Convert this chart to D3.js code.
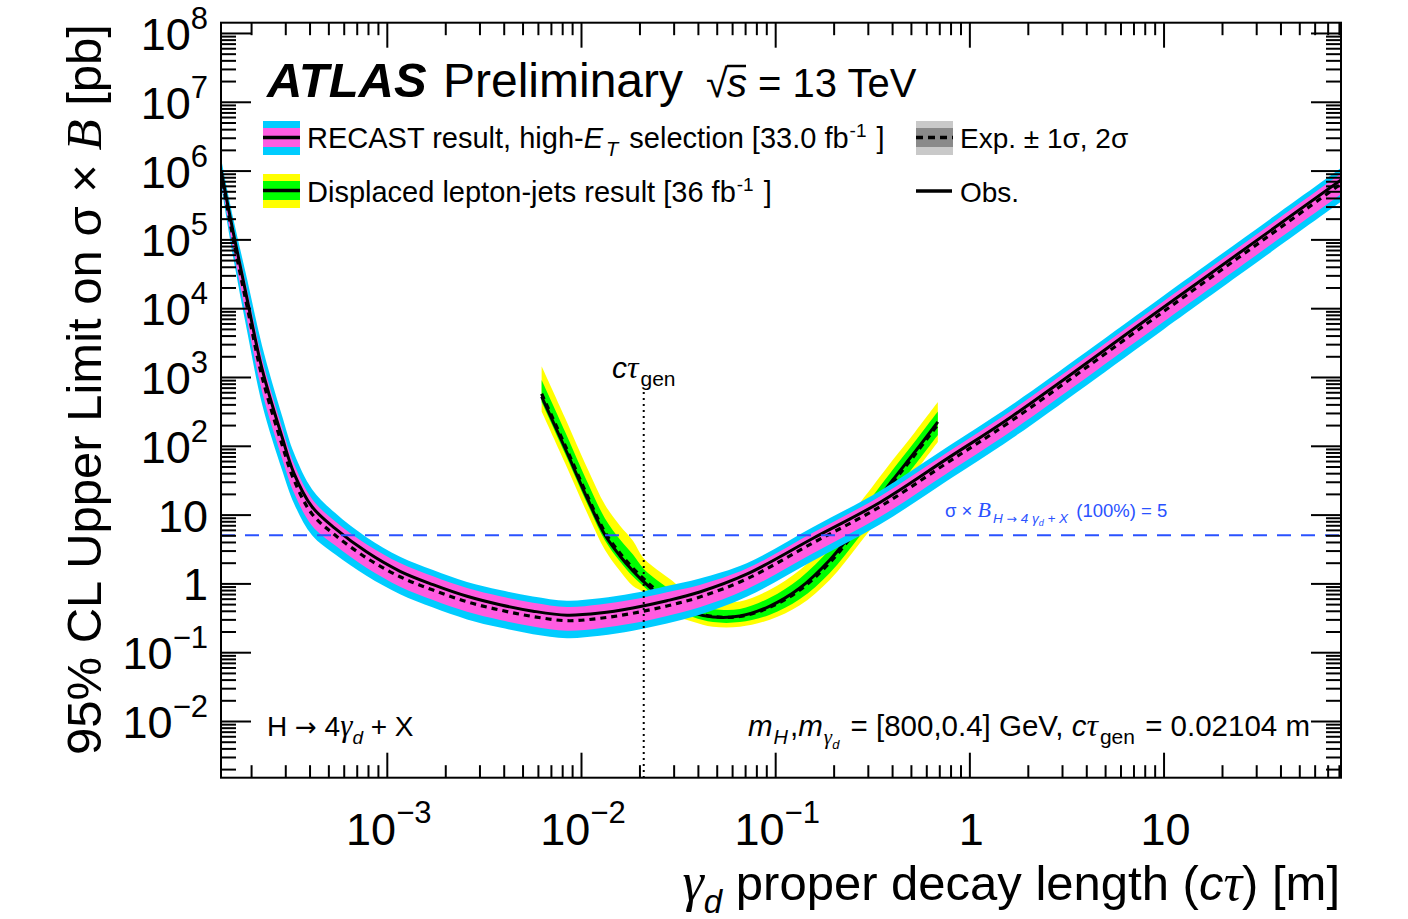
<!DOCTYPE html>
<html>
<head>
<meta charset="utf-8">
<script src="https://cdn.jsdelivr.net/npm/d3@7"></script>
<style>
  body { margin: 0; background: #fff; }
  svg text { font-family: "Liberation Sans", Arial, Helvetica, sans-serif; fill: #000; }
</style>
</head>
<body>
<svg id="chart" width="1408" height="919"></svg>
<script>
// ---- RECAST result, high-ET selection (cτ in m, σ×B limit in pb) ----
const recastCtau = [1.4e-4, 1.62e-4, 1.91e-4, 2.28e-4, 2.89e-4, 3.33e-4, 4.12e-4, 5.41e-4, 7.89e-4, 1.17e-3,
                    1.73e-3, 2.59e-3, 3.83e-3, 5.66e-3, 8.47e-3, 1.25e-2, 1.85e-2, 2.77e-2, 4.09e-2, 7.13e-2,
                    0.156, 0.346, 0.762, 1.67, 10, 82];
const recastExp  = [9.5e5, 1.0e5, 1.04e4, 1000, 103, 31.6, 10.2, 5.05, 2.33, 1.25,
                    0.80, 0.54, 0.41, 0.33, 0.287, 0.311, 0.368, 0.47, 0.634, 1.16,
                    3.86, 13.0, 55.7, 237, 8950, 6.4e5];
const recastObs  = [1.0e6, 1.25e5, 1.33e4, 1300, 133, 39.5, 13.0, 6.3, 2.85, 1.5,
                    0.96, 0.65, 0.49, 0.395, 0.345, 0.37, 0.44, 0.56, 0.75, 1.36,
                    4.5, 15.0, 64, 272, 1.03e4, 7.3e5];
const recastUp2  = [1.51e6, 2.0e5, 2.61e4, 2818, 271, 77.6, 23.4, 10.6, 4.65, 2.44,
                    1.56, 1.05, 0.80, 0.644, 0.56, 0.606, 0.718, 0.917, 1.18, 1.97,
                    6.55, 22.1, 94.6, 402, 1.52e4, 1.09e6];
const recastUp1  = [1.25e6, 1.51e5, 1.81e4, 1820, 183, 54.3, 16.9, 8.0, 3.69, 1.98,
                    1.27, 0.856, 0.65, 0.523, 0.455, 0.493, 0.583, 0.745, 0.95, 1.64,
                    5.45, 18.4, 78.7, 335, 1.26e4, 9.04e5];
const recastDn1  = [7.54e5, 7.08e4, 6560, 603, 65.0, 20.6, 6.9, 3.58, 1.67, 0.895,
                    0.573, 0.387, 0.294, 0.236, 0.205, 0.223, 0.263, 0.337, 0.45, 0.821,
                    2.73, 9.2, 39.4, 168, 6340, 4.53e5];
const recastDn2  = [6.28e5, 5.37e4, 4540, 398, 44.0, 14.4, 5.0, 2.65, 1.28, 0.695,
                    0.445, 0.300, 0.228, 0.183, 0.16, 0.173, 0.205, 0.261, 0.35, 0.638,
                    2.12, 7.15, 30.6, 130, 4920, 3.52e5];

// ---- Displaced lepton-jets result ----
const ljCtau = [6.27e-3, 8.27e-3, 1.087e-2, 1.329e-2, 1.588e-2, 1.852e-2, 2.085e-2, 2.347e-2, 2.87e-2, 3.77e-2,
                4.78e-2, 6.58e-2, 9.39e-2, 0.134, 0.191, 0.273, 0.403, 0.524, 0.688];
const ljObs  = [518, 92.9, 16.3, 5.05, 2.50, 1.51, 1.08, 0.802, 0.537, 0.372,
                0.325, 0.336, 0.469, 0.857, 2.19, 7.55, 31.8, 81.3, 222];
const ljExp  = [570, 102, 17.9, 5.55, 2.75, 1.66, 1.19, 0.88, 0.58, 0.39,
                0.33, 0.33, 0.45, 0.80, 2.0, 6.9, 29.0, 74, 203];
const ljUp2  = [1431, 256, 44.9, 13.9, 6.9, 4.17, 2.38, 1.76, 1.16, 0.647,
                0.548, 0.548, 0.81, 1.56, 4.28, 14.8, 62.1, 158, 434];
const ljUp1  = [903, 162, 28.4, 8.8, 4.36, 2.63, 1.68, 1.24, 0.818, 0.503,
                0.426, 0.426, 0.62, 1.18, 3.1, 10.7, 45, 115, 315];
const ljDn1  = [433, 77.4, 13.6, 4.21, 2.09, 1.26, 0.928, 0.686, 0.452, 0.324,
                0.274, 0.274, 0.351, 0.592, 1.42, 4.9, 20.6, 52.5, 144];
const ljDn2  = [314, 56.1, 9.85, 3.05, 1.51, 0.913, 0.75, 0.554, 0.365, 0.277,
                0.234, 0.234, 0.297, 0.48, 1.12, 3.86, 16.2, 41.4, 114];

// ---- reference values ----
const ctauGen = 0.02104;       // generated proper decay length [m]
const xsecBR100 = 5;           // σ × B for B(H→4γd+X) = 100% [pb]

// ---- axis ticks / labels ----
const xMajor = [1e-3, 1e-2, 1e-1, 1, 10];
const xTickBase = ["10", "10", "10", "1", "10"];
const xTickExp  = ["\u22123", "\u22122", "\u22121", "", ""];
const yMajor = [1e-2, 1e-1, 1, 10, 1e2, 1e3, 1e4, 1e5, 1e6, 1e7, 1e8];
const yTickBase = ["10", "10", "1", "10", "10", "10", "10", "10", "10", "10", "10"];
const yTickExp  = ["\u22122", "\u22121", "", "", "2", "3", "4", "5", "6", "7", "8"];

// ---- layout ----
const X0 = 221, X1 = 1341, Y0 = 22.7, Y1 = 777.7;
const C_CYAN = "#00ccff", C_MAG = "#ff5ce1", C_GREEN = "#00ff00", C_YEL = "#ffff00";
const C_BLUE = "#2a52ff";
const ARROW_FONT = "'DejaVu Sans', sans-serif";

const svg = d3.select("#chart");
const x = d3.scaleLog().domain([1.4e-4, 82]).range([X0, X1]);
const y = d3.scaleLog().domain([1.5e-3, 1.41e8]).range([Y1, Y0]);

svg.append("defs").append("clipPath").attr("id", "plotclip")
  .append("rect").attr("x", X0).attr("y", Y0).attr("width", X1 - X0).attr("height", Y1 - Y0);

const plot = svg.append("g").attr("clip-path", "url(#plotclip)");

function rows(ct, arrs) {
  return ct.map((c, i) => { const r = { c }; for (const k in arrs) r[k] = arrs[k][i]; return r; });
}
const recast = rows(recastCtau, { exp: recastExp, obs: recastObs, u2: recastUp2, u1: recastUp1, d1: recastDn1, d2: recastDn2 });
const lj = rows(ljCtau, { exp: ljExp, obs: ljObs, u2: ljUp2, u1: ljUp1, d1: ljDn1, d2: ljDn2 });

const curve = d3.curveCatmullRom.alpha(0.5);
const band = (lo, hi) => d3.area().x(d => x(d.c)).y0(d => y(d[lo])).y1(d => y(d[hi])).curve(curve);
const line = key => d3.line().x(d => x(d.c)).y(d => y(d[key])).curve(curve);

function drawLimit(data, outer, inner) {
  plot.append("path").datum(data).attr("d", band("d2", "u2")).attr("fill", outer);
  plot.append("path").datum(data).attr("d", band("d1", "u1")).attr("fill", inner);
  plot.append("path").datum(data).attr("d", line("exp")).attr("fill", "none")
    .attr("stroke", "#000").attr("stroke-width", 3.2).attr("stroke-dasharray", "6,5");
  plot.append("path").datum(data).attr("d", line("obs")).attr("fill", "none")
    .attr("stroke", "#000").attr("stroke-width", 3);
}
drawLimit(lj, C_YEL, C_GREEN);
drawLimit(recast, C_CYAN, C_MAG);

// σ×B reference line
plot.append("line").attr("x1", X0).attr("x2", X1).attr("y1", y(xsecBR100)).attr("y2", y(xsecBR100))
  .attr("stroke", C_BLUE).attr("stroke-width", 2).attr("stroke-dasharray", "14,10");

// generated cτ marker
plot.append("line").attr("x1", x(ctauGen)).attr("x2", x(ctauGen)).attr("y1", 392).attr("y2", Y1)
  .attr("stroke", "#000").attr("stroke-width", 2).attr("stroke-dasharray", "2,4");

// ---- axes (ticks inward on all four sides) ----
function minorTicks(scale) {
  const [a, b] = scale.domain(), out = [];
  for (let e = Math.floor(Math.log10(a)); e <= Math.ceil(Math.log10(b)); e++)
    for (let k = 2; k <= 9; k++) { const v = k * Math.pow(10, e); if (v >= a && v <= b) out.push(v); }
  return out;
}
const xMinor = minorTicks(x), yMinor = minorTicks(y);
function addAxis(gen, tx, ty, values, len) {
  const g = svg.append("g").attr("transform", `translate(${tx},${ty})`)
    .call(gen.tickValues(values).tickSizeInner(-len).tickSizeOuter(0).tickFormat(""));
  g.select(".domain").remove();
  g.selectAll(".tick line").attr("stroke", "#000").attr("stroke-width", 2);
}
addAxis(d3.axisBottom(x), 0, Y1, xMajor, 25);
addAxis(d3.axisBottom(x), 0, Y1, xMinor, 12.5);
addAxis(d3.axisTop(x), 0, Y0, xMajor, 25);
addAxis(d3.axisTop(x), 0, Y0, xMinor, 12.5);
addAxis(d3.axisLeft(y), X0, 0, yMajor, 30);
addAxis(d3.axisLeft(y), X0, 0, yMinor, 15);
addAxis(d3.axisRight(y), X1, 0, yMajor, 30);
addAxis(d3.axisRight(y), X1, 0, yMinor, 15);

svg.append("rect").attr("x", X0).attr("y", Y0).attr("width", X1 - X0).attr("height", Y1 - Y0)
  .attr("fill", "none").attr("stroke", "#000").attr("stroke-width", 2);

// tick labels
xMajor.forEach((v, i) => {
  const t = svg.append("text").attr("x", x(v) + 2).attr("y", 845).attr("text-anchor", "middle").attr("font-size", 45);
  t.append("tspan").text(xTickBase[i]);
  if (xTickExp[i]) t.append("tspan").attr("font-size", 31).attr("dy", -22).text(xTickExp[i]);
});
yMajor.forEach((v, i) => {
  const t = svg.append("text").attr("x", 208).attr("y", y(v) + 17).attr("text-anchor", "end").attr("font-size", 45);
  t.append("tspan").text(yTickBase[i]);
  if (yTickExp[i]) t.append("tspan").attr("font-size", 31).attr("dy", -21).text(yTickExp[i]);
});

// rich-text helper: runs of {t, size, it, serif, fam, dy, dx}
function rich(sel, runs) {
  runs.forEach(r => {
    const ts = sel.append("tspan").text(r.t);
    if (r.size) ts.attr("font-size", r.size);
    if (r.it) ts.attr("font-style", "italic");
    if (r.serif) ts.attr("font-family", "'Liberation Serif', 'Times New Roman', serif");
    if (r.fam) ts.attr("font-family", r.fam);
    if (r.dy) ts.attr("dy", r.dy);
    if (r.dx) ts.attr("dx", r.dx);
  });
  return sel;
}

// axis titles
rich(svg.append("text").attr("transform", "translate(101,24) rotate(-90)").attr("text-anchor", "end").attr("font-size", 49), [
  { t: "95% CL Upper Limit on \u03C3 \u00D7 " },
  { t: "B", it: true, serif: true, size: 51 },
  { t: " [pb]", size: 49 }
]);
rich(svg.append("text").attr("x", 1340).attr("y", 900).attr("text-anchor", "end").attr("font-size", 49), [
  { t: "\u03B3", it: true, serif: true, size: 54 },
  { t: "d", it: true, size: 33, dy: 13 },
  { t: " proper decay length (", size: 49, dy: -13 },
  { t: "c", it: true },
  { t: "\u03C4", it: true, serif: true, size: 52 },
  { t: ") [m]", size: 49 }
]);

// ATLAS label
svg.append("text").attr("x", 267).attr("y", 97).attr("font-size", 49)
  .attr("font-weight", "bold").attr("font-style", "italic").text("ATLAS");
svg.append("text").attr("x", 443).attr("y", 97).attr("font-size", 48).text("Preliminary");
svg.append("text").attr("x", 706).attr("y", 97).attr("font-size", 40).text("\u221A");
svg.append("line").attr("x1", 727).attr("x2", 746).attr("y1", 66).attr("y2", 66).attr("stroke", "#000").attr("stroke-width", 2.5);
rich(svg.append("text").attr("x", 727).attr("y", 97).attr("font-size", 40), [
  { t: "s", it: true }, { t: " = 13 TeV" }
]);

// legend
const legFs = 29;
function legendBox(x0, y0, outer, inner, dashed) {
  svg.append("rect").attr("x", x0).attr("y", y0).attr("width", 37).attr("height", 34).attr("fill", outer);
  svg.append("rect").attr("x", x0).attr("y", y0 + 7).attr("width", 37).attr("height", 19).attr("fill", inner);
  svg.append("line").attr("x1", x0).attr("x2", x0 + 37).attr("y1", y0 + 16.5).attr("y2", y0 + 16.5)
    .attr("stroke", "#000").attr("stroke-width", 3.5).attr("stroke-dasharray", dashed ? "7,5" : null);
}
legendBox(263, 121, C_CYAN, C_MAG, false);
legendBox(263, 174, C_YEL, C_GREEN, false);
legendBox(916, 121, "#c9c9c9", "#8a8a8a", true);
svg.append("line").attr("x1", 916).attr("x2", 952).attr("y1", 191).attr("y2", 191).attr("stroke", "#000").attr("stroke-width", 3.5);

rich(svg.append("text").attr("x", 307).attr("y", 148).attr("font-size", legFs), [
  { t: "RECAST result, high-" },
  { t: "E", it: true },
  { t: "T", it: true, size: 20, dy: 8, dx: 3 },
  { t: " selection [33.0 fb", size: legFs, dy: -8, dx: 3 },
  { t: "-1", size: 19, dy: -11, dx: 1 },
  { t: " ]", size: legFs, dy: 11, dx: 2 }
]);
rich(svg.append("text").attr("x", 307).attr("y", 202).attr("font-size", legFs), [
  { t: "Displaced lepton-jets result [36 fb" },
  { t: "-1", size: 19, dy: -11, dx: 1 },
  { t: " ]", size: legFs, dy: 11, dx: 2 }
]);
svg.append("text").attr("x", 960).attr("y", 148).attr("font-size", 28).text("Exp. \u00B1 1\u03C3, 2\u03C3");
svg.append("text").attr("x", 960).attr("y", 202).attr("font-size", 28).text("Obs.");

// annotations
rich(svg.append("text").attr("x", 612).attr("y", 378).attr("font-size", 30), [
  { t: "c", it: true },
  { t: "\u03C4", it: true, serif: true, size: 32 },
  { t: "gen", size: 21, dy: 8, dx: 2 }
]);
rich(svg.append("text").attr("x", 267).attr("y", 736).attr("font-size", 28), [
  { t: "H " },
  { t: "\u2192", fam: ARROW_FONT, size: 26 },
  { t: " 4", size: 28 },
  { t: "\u03B3", it: true, serif: true, size: 31 },
  { t: "d", it: true, size: 19, dy: 8 },
  { t: " + X", size: 28, dy: -8 }
]);
rich(svg.append("text").attr("x", 1310).attr("y", 736).attr("text-anchor", "end").attr("font-size", 29.5), [
  { t: "m", it: true },
  { t: "H", it: true, size: 20, dy: 8, dx: 1 },
  { t: ",", size: 29.5, dy: -8, dx: 2 },
  { t: "m", it: true },
  { t: "\u03B3", it: true, serif: true, size: 21, dy: 8, dx: 1 },
  { t: "d", it: true, size: 13, dy: 5 },
  { t: " = [800,0.4] GeV, ", size: 29.5, dy: -13, dx: 3 },
  { t: "c", it: true },
  { t: "\u03C4", it: true, serif: true, size: 32 },
  { t: "gen", size: 21, dy: 8, dx: 2 },
  { t: " = 0.02104 m", size: 29.5, dy: -8, dx: 2 }
]);
const blueLbl = svg.append("text").attr("x", 945).attr("y", 517).attr("font-size", 18.5);
rich(blueLbl, [
  { t: "\u03C3 \u00D7 " },
  { t: "B", it: true, serif: true, size: 22 },
  { t: "H ", it: true, size: 13.5, dy: 6, dx: 2 },
  { t: "\u2192", fam: ARROW_FONT, size: 12.5 },
  { t: " 4 \u03B3", it: true, size: 13.5 },
  { t: "d", it: true, size: 9, dy: 3 },
  { t: " + X", it: true, size: 13.5, dy: -3 },
  { t: " (100%) = 5", size: 18.5, dy: -6, dx: 3 }
]);
blueLbl.selectAll("tspan").style("fill", C_BLUE);
</script>
</body>
</html>
